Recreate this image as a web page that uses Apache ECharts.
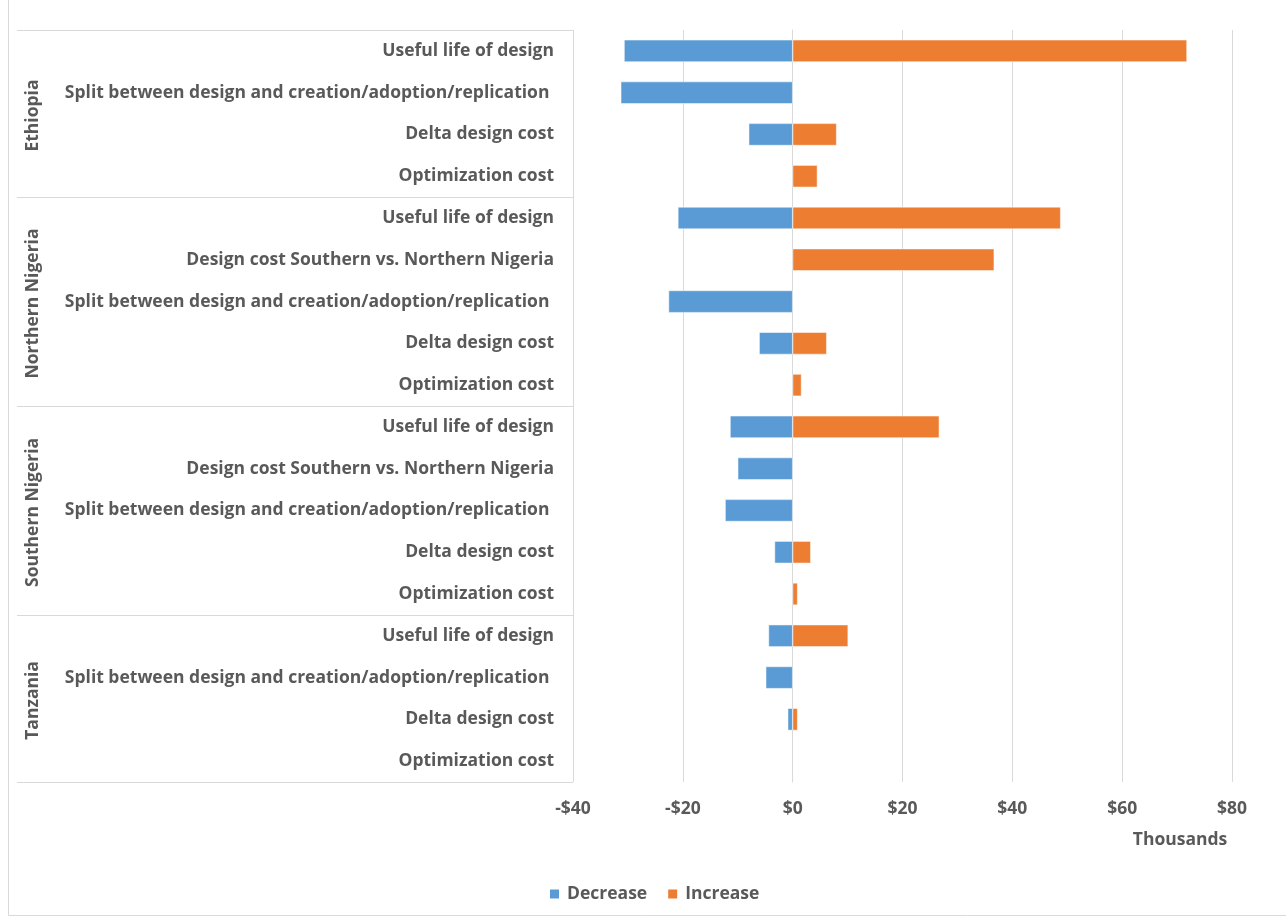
<!DOCTYPE html>
<html><head><meta charset="utf-8">
<script src="https://cdn.jsdelivr.net/npm/echarts@6/dist/echarts.min.js"></script>
<style>html,body{margin:0;padding:0;background:#fff}#c{width:1286px;height:918px}</style>
</head><body><div id="c"></div>
<script>
const groups = ['Ethiopia', 'Northern Nigeria', 'Southern Nigeria', 'Tanzania'];
const groupSizes = [4, 5, 5, 4];
const rowLabels = [
  'Useful life of design', 'Split between design and creation/adoption/replication ', 'Delta design cost', 'Optimization cost',
  'Useful life of design', 'Design cost Southern vs. Northern Nigeria', 'Split between design and creation/adoption/replication ', 'Delta design cost', 'Optimization cost',
  'Useful life of design', 'Design cost Southern vs. Northern Nigeria', 'Split between design and creation/adoption/replication ', 'Delta design cost', 'Optimization cost',
  'Useful life of design', 'Split between design and creation/adoption/replication ', 'Delta design cost', 'Optimization cost'
];
const decrease = [-30.7, -31.3, -8.0, null,  -20.9, null, -22.6, -6.1, null,  -11.4, -10.0, -12.3, -3.3, null,  -4.4, -4.9, -0.9, null];
const increase = [71.8, null, 8.0, 4.5,  48.8, 36.7, null, 6.2, 1.6,  26.7, null, null, 3.3, 0.9,  10.1, null, 0.9, null];
const axisMin = -40, axisMax = 80, axisStep = 20;
const axisUnit = 'Thousands';

const FONT = '"Open Sans"';
const FS = 17.5;
const TXT = '#595959';
const GRID = '#d9d9d9';

const catKeys = rowLabels.map((l, i) => i + '|' + l);

const chart = echarts.init(document.getElementById('c'), null, {renderer: 'canvas'});
const option = {
  animation: false,
  backgroundColor: '#fff',
  textStyle: {fontFamily: FONT},
  grid: {left: 573, right: 54, top: 30, bottom: 136, containLabel: false},
  legend: {
    data: ['Decrease', 'Increase'],
    left: 548, top: 885, padding: 0,
    itemWidth: 11, itemHeight: 11, itemGap: 19, icon: 'rect',
    textStyle: {color: TXT, fontSize: FS, fontWeight: 'bold', fontFamily: FONT, padding: [0, 0, 0, 2]}
  },
  xAxis: {
    type: 'value', min: axisMin, max: axisMax, interval: axisStep,
    axisLine: {show: false}, axisTick: {show: false},
    splitLine: {show: true, lineStyle: {color: GRID, width: 1}},
    axisLabel: {
      color: TXT, fontSize: FS, fontWeight: 'bold', fontFamily: FONT, margin: 18,
      formatter: v => (v < 0 ? '-$' + (-v) : '$' + v)
    }
  },
  yAxis: {
    type: 'category', data: catKeys, inverse: true,
    axisLine: {show: true, lineStyle: {color: GRID, width: 1}},
    axisTick: {show: false},
    splitLine: {show: false},
    axisLabel: {
      color: TXT, fontSize: FS, fontWeight: 'bold', fontFamily: FONT, margin: 19,
      formatter: v => v.slice(v.indexOf('|') + 1)
    }
  },
  series: [
    {name: 'Decrease', type: 'bar', stack: 'a', data: decrease, barWidth: '53%',
     itemStyle: {color: '#5B9BD5', borderColor: '#fff', borderWidth: 0.5}},
    {name: 'Increase', type: 'bar', stack: 'a', data: increase, barWidth: '53%',
     itemStyle: {color: '#ED7D31', borderColor: '#fff', borderWidth: 0.5}}
  ]
};
chart.setOption(option);

const c0 = chart.convertToPixel({yAxisIndex: 0}, catKeys[0]);
const c1 = chart.convertToPixel({yAxisIndex: 0}, catKeys[1]);
const band = c1 - c0;
const top0 = c0 - band / 2;
const gridLeft = 573;
const elems = [];
elems.push({type: 'rect', shape: {x: 8.5, y: -2, width: 1300, height: 917.5},
  style: {fill: 'none', stroke: GRID, lineWidth: 1}, silent: true, z: -1});
let idx = 0;
const lineAt = y => ({type: 'line', shape: {x1: 17, y1: Math.round(y) + 0.5, x2: gridLeft, y2: Math.round(y) + 0.5},
  style: {stroke: GRID, lineWidth: 1}, silent: true});
elems.push(lineAt(top0));
groups.forEach((g, gi) => {
  const start = top0 + idx * band;
  idx += groupSizes[gi];
  const end = top0 + idx * band;
  elems.push(lineAt(end));
  elems.push({type: 'text', x: 33, y: (start + end) / 2 + 2, rotation: Math.PI / 2,
    style: {text: g, fill: TXT, font: 'bold ' + FS + 'px ' + FONT, align: 'center', verticalAlign: 'middle'}, silent: true});
});
elems.push({type: 'text', x: 1180, y: 840,
  style: {text: axisUnit, fill: TXT, font: 'bold ' + FS + 'px ' + FONT, align: 'center', verticalAlign: 'middle'}, silent: true});
chart.setOption({graphic: {elements: elems}});
</script></body></html>
